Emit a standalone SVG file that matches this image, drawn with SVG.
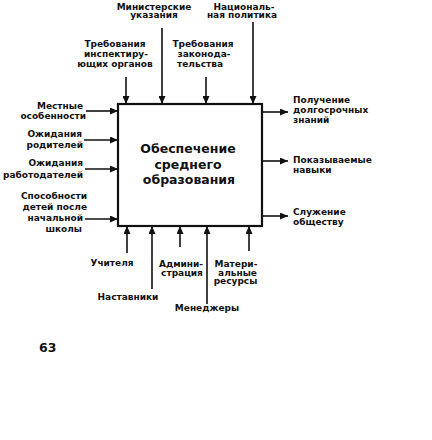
<svg xmlns="http://www.w3.org/2000/svg" width="432" height="440" viewBox="0 0 432 440">
<defs>
<marker id="ah" markerWidth="8" markerHeight="7" refX="8" refY="3.5" orient="auto" markerUnits="userSpaceOnUse">
<path d="M0,0 L8,3.5 L0,7 Z" fill="#111"/>
</marker>
<style>
.lbl{font-family:"DejaVu Sans",sans-serif;font-size:9px;font-weight:bold;fill:#111}
.c{text-anchor:middle}
.e{text-anchor:end}
.main{font-family:"DejaVu Sans",sans-serif;font-size:12.5px;font-weight:bold;fill:#111;text-anchor:middle}
.ln{stroke:#111;stroke-width:1.6;fill:none}
.ar{marker-end:url(#ah)}
</style>
</defs>
<rect width="432" height="440" fill="#fff"/>
<g id="connectors">
<line class="ln ar" x1="126" y1="77" x2="126" y2="104"/>
<line class="ln ar" x1="162" y1="28" x2="162" y2="104"/>
<line class="ln ar" x1="206" y1="77" x2="206" y2="104"/>
<line class="ln ar" x1="253" y1="22" x2="253" y2="104"/>
<line class="ln ar" x1="86" y1="111" x2="118" y2="111"/>
<line class="ln ar" x1="84" y1="140" x2="118" y2="140"/>
<line class="ln ar" x1="85" y1="169" x2="118" y2="169"/>
<line class="ln ar" x1="85" y1="219" x2="118" y2="219"/>
<line class="ln ar" x1="262" y1="112" x2="288" y2="112"/>
<line class="ln ar" x1="262" y1="161" x2="288" y2="161"/>
<line class="ln ar" x1="262" y1="216" x2="288" y2="216"/>
<line class="ln ar" x1="127" y1="253" x2="127" y2="226"/>
<line class="ln ar" x1="152" y1="289" x2="152" y2="226"/>
<line class="ln ar" x1="180" y1="247" x2="180" y2="226"/>
<line class="ln ar" x1="207" y1="304" x2="207" y2="226"/>
<line class="ln ar" x1="249" y1="251" x2="249" y2="226"/>
</g>
<g id="main">
<rect x="118" y="104" width="144" height="122" fill="#fff" stroke="#111" stroke-width="2.2"/>
<text class="main" x="188" y="153">Обеспечение</text>
<text class="main" x="188" y="168.5">среднего</text>
<text class="main" x="189" y="184">образования</text>
</g>
<g id="ctrl-ministry"><text class="lbl c" x="154" y="9.5">Министерские</text><text class="lbl c" x="154" y="18">указания</text></g>
<g id="ctrl-national"><text class="lbl c" x="244" y="9.5">Националь-</text><text class="lbl c" x="242" y="18">ная политика</text></g>
<g id="ctrl-inspect"><text class="lbl c" x="115" y="46.5">Требования</text><text class="lbl c" x="116" y="56.5">инспектиру-</text><text class="lbl c" x="115" y="66.5">ющих органов</text></g>
<g id="ctrl-law"><text class="lbl c" x="203" y="46.5">Требования</text><text class="lbl c" x="204" y="56.5">законода-</text><text class="lbl c" x="200" y="66.5">тельства</text></g>
<g id="in-local"><text class="lbl e" x="83" y="109">Местные</text><text class="lbl e" x="86" y="118.5">особенности</text></g>
<g id="in-parents"><text class="lbl e" x="82" y="137">Ожидания</text><text class="lbl e" x="83" y="148">родителей</text></g>
<g id="in-employers"><text class="lbl e" x="83" y="166">Ожидания</text><text class="lbl e" x="83" y="178">работодателей</text></g>
<g id="in-abilities"><text class="lbl e" x="87" y="199">Способности</text><text class="lbl e" x="87" y="210">детей после</text><text class="lbl e" x="83" y="221">начальной</text><text class="lbl e" x="82" y="232">школы</text></g>
<g id="out-knowledge"><text class="lbl" x="293" y="103">Получение</text><text class="lbl" x="293" y="113">долгосрочных</text><text class="lbl" x="293" y="122.5">знаний</text></g>
<g id="out-skills"><text class="lbl" x="293" y="163">Показываемые</text><text class="lbl" x="293" y="173">навыки</text></g>
<g id="out-service"><text class="lbl" x="293" y="215">Служение</text><text class="lbl" x="293" y="225">обществу</text></g>
<g id="mech-teachers"><text class="lbl c" x="112" y="266">Учителя</text></g>
<g id="mech-mentors"><text class="lbl c" x="128" y="300">Наставники</text></g>
<g id="mech-admin"><text class="lbl c" x="181" y="266.5">Админи-</text><text class="lbl c" x="182" y="275.5">страция</text></g>
<g id="mech-resources"><text class="lbl c" x="236" y="266.5">Матери-</text><text class="lbl c" x="237.5" y="275.5">альные</text><text class="lbl c" x="235.5" y="284">ресурсы</text></g>
<g id="mech-managers"><text class="lbl c" x="207" y="310.5">Менеджеры</text></g>
<text x="39" y="352" font-family="DejaVu Sans,sans-serif" font-size="12.5" font-weight="bold" fill="#111">63</text>
</svg>
